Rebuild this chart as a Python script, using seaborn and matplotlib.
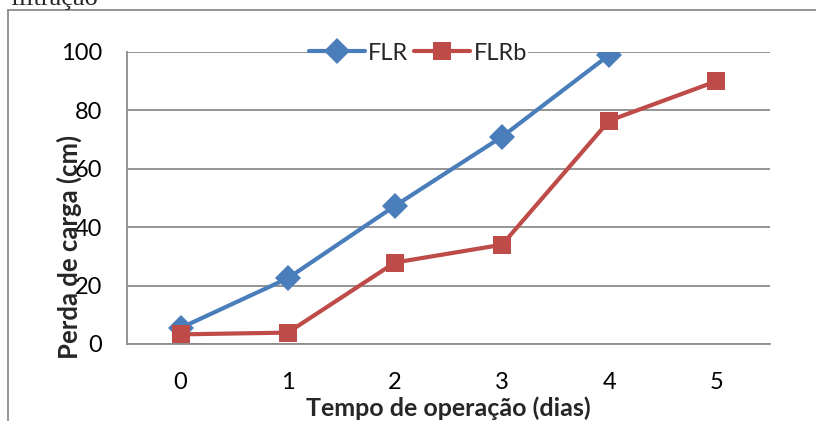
import matplotlib
matplotlib.use("Agg")
import matplotlib.pyplot as plt
from matplotlib.lines import Line2D
import seaborn as sns
import pandas as pd

# Data
dias = [0, 1, 2, 3, 4, 5]
flr = [5.5, 22.5, 47.3, 71.0, 99.0]
flrb = [3.3, 3.9, 27.9, 34.0, 76.5, 90.0]
serie_nomes = ["FLR", "FLRb"]
cores = ["#4A7EBB", "#BE4B48"]
marcadores = ["D", "s"]

df = pd.concat([
    pd.DataFrame({"dia": dias[:len(flr)], "perda": flr, "serie": "FLR"}),
    pd.DataFrame({"dia": dias[:len(flrb)], "perda": flrb, "serie": "FLRb"}),
])

sns.set_theme(style="white")
plt.rcParams["font.family"] = ["Lato", "DejaVu Sans"]

W, H = 816, 421
fig = plt.figure(figsize=(W / 100, H / 100), dpi=100)
ax = fig.add_axes([127 / W, 1 - 344 / H, (770 - 127) / W, (344 - 52) / H])

gray = "#8C8C8C"
fs = 17
ax.set_ylim(0, 100)
ax.set_xlim(-0.5, 5.5)
ax.set_yticks(range(0, 101, 20))
ax.yaxis.grid(True, color=gray, linewidth=1.3)
ax.set_axisbelow(True)

sns.lineplot(data=df, x="dia", y="perda", hue="serie", style="serie",
             palette=dict(zip(serie_nomes, cores)),
             markers=dict(zip(serie_nomes, marcadores)), dashes=False,
             linewidth=3.0, markersize=13, markeredgewidth=0,
             legend=False, ax=ax, zorder=3)

for side in ["top", "right"]:
    ax.spines[side].set_visible(False)
for side in ["left", "bottom"]:
    ax.spines[side].set_color(gray)
    ax.spines[side].set_linewidth(1.3)

ax.set_xticks(dias)
ax.set_xticklabels([str(d) for d in dias])
ax.set_xticks([d - 0.5 for d in dias] + [5.5], minor=True)
ax.tick_params(axis="x", which="major", length=0, pad=20, labelsize=fs, labelcolor="black")
ax.tick_params(axis="x", which="minor", length=7, width=1.3, color=gray, direction="out")
ax.tick_params(axis="y", which="major", length=7, width=1.3, color=gray,
               direction="out", labelsize=fs, pad=11, labelcolor="black")
ax.set_xlabel("")
ax.set_ylabel("")

# axis titles
fig.text(448 / W, 1 - 408 / H, "Tempo de operação (dias)", fontsize=18, fontweight="bold",
         ha="center", va="center")
fig.text(69 / W, 1 - 247 / H, "Perda de carga (cm)", fontsize=18.5, fontweight="bold",
         ha="center", va="center", rotation=90)

handles = [Line2D([], [], color=c, marker=m, linewidth=3.0, markersize=13,
                  markeredgewidth=0) for c, m in zip(cores, marcadores)]
leg = ax.legend(handles, serie_nomes, loc="center", bbox_to_anchor=(418 / W, 1 - 53 / H),
                bbox_transform=fig.transFigure, ncol=2, frameon=True, fontsize=fs,
                handlelength=2.35, handletextpad=0.15, columnspacing=0.25,
                borderpad=0.05, borderaxespad=0)
leg.get_frame().set_facecolor("white")
leg.get_frame().set_edgecolor("none")
leg.get_frame().set_alpha(1)
leg.get_frame().set_boxstyle("square", pad=0)

# outer frame and caption fragment above it
fig.add_artist(Line2D([8 / W, 8 / W], [0, 1 - 10 / H], color=gray, linewidth=1.3))
fig.add_artist(Line2D([8 / W, 1], [1 - 10 / H, 1 - 10 / H], color=gray, linewidth=1.3))
fig.text(10 / W, 1 - 5 / H, "filtração", fontsize=19, va="baseline", ha="left",
         family=["Liberation Serif", "DejaVu Serif"])

fig.savefig("out.png", dpi=100)
